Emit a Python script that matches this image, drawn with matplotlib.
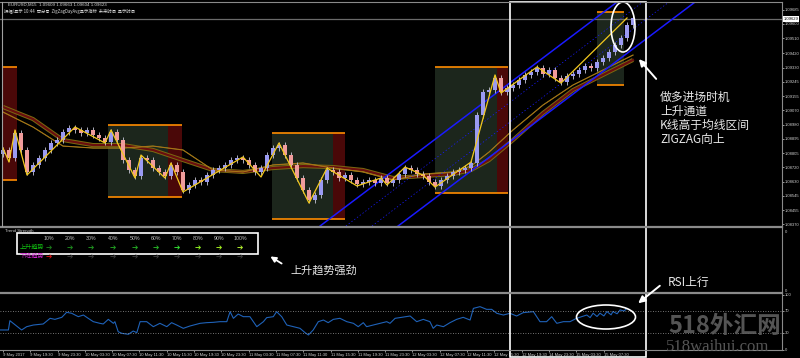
import numpy as np
import matplotlib
matplotlib.use('Agg')
import matplotlib.pyplot as plt
from matplotlib.patches import Rectangle, Ellipse

plt.rcParams['font.family'] = ['Noto Sans CJK SC', 'DejaVu Sans']
plt.rcParams['hatch.linewidth'] = 0.25

# ---------------- data ----------------
first_open = 1.08800
closes = [1.08825, 1.08776, 1.08929, 1.08825, 1.08690, 1.08733, 1.08776, 1.08825, 1.08868, 1.08886,
          1.08935, 1.08960, 1.08948, 1.08929, 1.08948, 1.08917, 1.08898, 1.08874, 1.08935, 1.08886,
          1.08763, 1.08702, 1.08665, 1.08776, 1.08763, 1.08714, 1.08690, 1.08665, 1.08733, 1.08690,
          1.08579, 1.08610, 1.08640, 1.08628, 1.08671, 1.08702, 1.08714, 1.08733, 1.08763, 1.08776,
          1.08763, 1.08733, 1.08690, 1.08714, 1.08794, 1.08837, 1.08855, 1.08794, 1.08733, 1.08653,
          1.08579, 1.08517, 1.08548, 1.08640, 1.08702, 1.08690, 1.08653, 1.08671, 1.08640, 1.08616,
          1.08628, 1.08640, 1.08622, 1.08653, 1.08622, 1.08640, 1.08677, 1.08714, 1.08702, 1.08677,
          1.08665, 1.08628, 1.08604, 1.08640, 1.08665, 1.08690, 1.08702, 1.08714, 1.08745, 1.09040,
          1.09181, 1.09193, 1.09267, 1.09181, 1.09206, 1.09224, 1.09255, 1.09286, 1.09304, 1.09329,
          1.09292, 1.09316, 1.09267, 1.09243, 1.09279, 1.09292, 1.09316, 1.09341, 1.09329, 1.09365,
          1.09390, 1.09427, 1.09470, 1.09513, 1.09593, 1.09636]

zigzag_t = [1, 3, 5, 9, 25, 35, 37, 45, 47, 55, 57, 61, 81, 87, 93, 103, 109, 119, 127, 129,
            135, 141, 145, 157, 165, 167, 179, 187, 209]
zigzag_p = [1.08837, 1.08751, 1.08948, 1.08671, 1.08966, 1.08868, 1.08948, 1.08653, 1.08794, 1.08653,
            1.08745, 1.08567, 1.08782, 1.08659, 1.08868, 1.08499, 1.08714, 1.08604, 1.08653, 1.08610,
            1.08720, 1.08671, 1.08597, 1.08751, 1.09286, 1.09175, 1.09335, 1.09236, 1.09636]

ma_t = [1, 11, 21, 31, 41, 51, 61, 71, 81, 91, 101, 111, 121, 131, 141, 151, 157, 163, 171, 181, 191, 201, 211]
ma_slow = [1.09089, 1.09015, 1.08886, 1.08855, 1.08855, 1.08825, 1.08763, 1.08702, 1.08690, 1.08714,
           1.08726, 1.08720, 1.08702, 1.08653, 1.08665, 1.08677, 1.08702, 1.08763, 1.08886, 1.09052,
           1.09193, 1.09286, 1.09378]
ma_fast = [1.09058, 1.08966, 1.08849, 1.08837, 1.08837, 1.08849, 1.08825, 1.08702, 1.08690, 1.08733,
           1.08745, 1.08714, 1.08690, 1.08640, 1.08677, 1.08690, 1.08726, 1.08812, 1.08948, 1.09101,
           1.09224, 1.09316, 1.09408]

# range boxes: start, end, top, bottom, red-zone start
box_start = [1.0, 36.0, 90.7, 145.0, 199.0]
box_end = [5.7, 60.7, 115.0, 169.3, 208.0]
box_top = [1.09335, 1.08978, 1.08929, 1.09335, 1.09673]
box_bottom = [1.08640, 1.08536, 1.08401, 1.08561, 1.09224]
box_red_from = [1.0, 56.0, 111.0, 165.7, None]

# rising channel
chan_upper_t = [106.7, 205.7]
chan_lower_t = [132.7, 231.7]
chan_mid1_t = [115.3, 214.3]
chan_mid2_t = [124.0, 223.0]
chan_p = [1.08358, 1.09734]

bid_price = 1.09629

rsi_points = [(0, 35.5), (2.8, 35.5), (3.3, 52.4), (4.4, 47.6), (7.2, 35.5), (8.9, 41.5), (11.1, 44.5),
              (14.4, 46.4), (16.7, 56.7), (18.3, 54.8), (20.6, 58.5), (22.2, 67.6), (23.9, 65.8),
              (26.1, 59.7), (27.8, 62.7), (29.4, 56.7), (31.1, 50.6), (33.3, 47.6), (34.4, 46.4),
              (36.1, 54.8), (37.8, 47.6), (38.3, 50.6), (39.4, 32.4), (40.6, 29.4), (42.8, 27.6),
              (44.4, 33.6), (45.6, 30.6), (46.7, 50.6), (48.9, 50.6), (51.1, 41.5), (53.3, 47.6),
              (55.6, 41.5), (57.2, 48.8), (58.9, 44.5), (61.1, 38.5), (63.3, 42.7), (66.7, 47.6),
              (68.9, 48.8), (71.1, 49.4), (73.3, 50.6), (75.6, 50.6), (76.7, 68.8), (77.8, 56.7),
              (79.4, 64.5), (81.1, 59.7), (83.3, 59.7), (85.6, 41.5), (87.8, 50.6), (88.9, 57.9),
              (91.1, 59.7), (92.2, 68.8), (93.9, 59.7), (95.6, 44.5), (97.8, 41.5), (100, 38.5),
              (101.7, 30.6), (102.8, 26.4), (104.4, 35.5), (106.1, 50.6), (107.8, 53.6), (109.4, 48.8),
              (111.1, 54.8), (113.3, 56.7), (115.6, 50.6), (117.8, 47.6), (119.4, 41.5), (121.1, 48.8),
              (122.2, 41.5), (124.4, 44.5), (126.7, 47.6), (128.9, 50.6), (130, 47.6), (131.7, 56.7),
              (133.3, 58.0), (136.7, 60.9), (138.9, 50.6), (141.1, 54.8), (143.3, 50.6), (144.4, 38.5),
              (145.6, 44.5), (147.8, 41.5), (150, 48.8), (152.2, 54.8), (154.4, 58.5), (156.7, 53.6),
              (157.8, 74.8), (160, 77.9), (162.2, 73.0), (163.9, 73.0), (165.6, 65.8), (167.8, 62.7),
              (170, 65.8), (172.2, 60.9), (174.4, 67.0), (177.8, 68.8), (180, 50.6), (182.2, 50.6),
              (183.9, 59.7), (185.6, 47.6), (187.8, 50.6), (190, 50.6), (192.2, 56.7), (195.6, 62.7),
              (196.7, 58.0), (197.7, 66.0), (199, 60.0), (200, 66.0), (201.3, 61.0), (202.3, 69.0),
              (203.7, 63.0), (204.3, 69.0), (205.7, 65.0), (206.7, 72.0), (208, 70.0), (209, 74.8)]
rsi_levels = [70, 30]

price_ticks = [1.09685, 1.09600, 1.09510, 1.09420, 1.09330, 1.09245, 1.09155, 1.09070, 1.08980,
               1.08895, 1.08805, 1.08720, 1.08630, 1.08545, 1.08455, 1.08370]
time_labels = ["9 May 2017", "9 May 19:30", "9 May 23:30", "10 May 03:30", "10 May 07:30",
               "10 May 11:30", "10 May 15:30", "10 May 19:30", "10 May 23:30", "11 May 03:30",
               "11 May 07:30", "11 May 11:30", "11 May 15:30", "11 May 19:30", "11 May 23:30",
               "12 May 03:30", "12 May 07:30", "12 May 11:30", "12 May 15:30", "12 May 19:30",
               "14 May 23:30", "15 May 03:30", "15 May 07:30"]
strength_labels = ['10%', '20%', '30%', '40%', '50%', '60%', '70%', '80%', '90%', '100%']
strength_up_colors = ['#1b7a1b', '#1d861d', '#1f921f', '#219c21', '#23a623', '#26b026',
                      '#33dd33', '#8cf020', '#a4f020', '#b4f030']
strength_dn_colors = ['#cc1010'] + ['#3a3a3a'] * 9

SMALL = ['Liberation Sans', 'DejaVu Sans']

# ---------------- figure ----------------
W, H = 800, 358
fig = plt.figure(figsize=(8, 3.58), dpi=100, facecolor='black')
XR = 782 / 800
ax = fig.add_axes([0, 132 / H, XR, 224 / H])
ax_ts = fig.add_axes([0, 66 / H, XR, 62 / H])
ax_rsi = fig.add_axes([0, 8.5 / H, XR, 55 / H])
xlim = (0, 782 / 3)
for a in (ax, ax_ts, ax_rsi):
    a.set_facecolor('black')
    a.set_xlim(*xlim)
    for s in a.spines.values():
        s.set_visible(False)

# main panel
ax.set_ylim(1.08358, 1.09734)
c = np.array(closes)
o = np.r_[first_open, c[:-1]]
t = np.arange(len(c)) * 2 + 1
lo = np.minimum(o, c)
hi = np.maximum(o, c)
pad = 0.00018
up = c >= o

for s0, s1, top, bot, rf in zip(box_start, box_end, box_top, box_bottom, box_red_from):
    ax.add_patch(Rectangle((s0, bot), s1 - s0, top - bot, facecolor='#030503',
                           edgecolor='#1c261c', hatch='+' * 30, lw=0, zorder=0.5))
    if rf is not None:
        ax.add_patch(Rectangle((rf, bot), s1 - rf, top - bot, facecolor='#0c0000',
                               edgecolor='#4a0808', hatch='+' * 30, lw=0, zorder=0.6))
    ax.hlines([top, bot], s0, s1, color='#ff8c00', lw=1.2, zorder=1)

ax.axhline(bid_price, color='#6a6a6a', lw=0.9, zorder=0.8)

ax.plot(ma_t, ma_slow, color='#7a6a10', lw=3.0, zorder=2, solid_capstyle='butt')
ax.plot(ma_t, ma_slow, color='#6a0e0e', lw=1.6, zorder=2.1)
ax.plot(ma_t, ma_fast, color='#9a9420', lw=0.8, zorder=2.2)
ax.plot(ma_t, ma_fast, color='#b05a10', lw=0.4, zorder=2.2)

ax.plot(chan_upper_t, chan_p, color='#1a1aff', lw=1.1, zorder=2.5)
ax.plot(chan_lower_t, chan_p, color='#1a1aff', lw=1.1, zorder=2.5)
ax.plot(chan_mid1_t, chan_p, color='#1a1aff', lw=0.5, ls=(0, (2, 3)), zorder=2.5)
ax.plot(chan_mid2_t, chan_p, color='#1a1aff', lw=0.5, ls=(0, (2, 3)), zorder=2.5)

ax.vlines(t, lo - pad, hi + pad, color='#c8c8d8', lw=0.6, zorder=3)
ax.bar(t, np.maximum(hi - lo, 0.00004), bottom=lo, width=1.3,
       color=np.where(up, '#9a9af2', '#f09c9c'), zorder=3.1)

ax.plot(zigzag_t, zigzag_p, color='#f2c81e', lw=0.9, zorder=4)

ax.yaxis.tick_right()
ax.set_yticks(price_ticks)
ax.set_yticklabels([f'{p:.5f}' for p in price_ticks], family=SMALL)
ax.tick_params(axis='y', colors='#b0b0b0', labelcolor='#d0d0d0', labelsize=3.0, length=1.5, pad=0.3, width=0.6)
ax.set_xticks([])

# trend strength panel
ax_ts.set_ylim(0, 1)
ax_ts.set_xticks([])
ax_ts.yaxis.tick_right()
ax_ts.set_yticks([0.97, 0.03])
ax_ts.set_yticklabels(['0', '0'], family=SMALL)
ax_ts.tick_params(axis='y', colors='#b0b0b0', labelcolor='#d0d0d0', labelsize=3.0, length=0, pad=2)

# RSI panel
ax_rsi.set_ylim(0, 100)
rt = [p[0] for p in rsi_points]
rv = [p[1] for p in rsi_points]
ax_rsi.plot(rt, rv, color='#1f62b8', lw=0.8)
for lv in rsi_levels:
    ax_rsi.axhline(lv, color='#9a9a9a', lw=0.6, ls=(0, (1, 2)))
ax_rsi.yaxis.tick_right()
ax_rsi.set_yticks([100, 70, 30, 0])
ax_rsi.set_yticklabels(['100', '70', '30', '0'], family=SMALL)
ax_rsi.tick_params(axis='y', colors='#b0b0b0', labelcolor='#d0d0d0', labelsize=3.0, length=1.5, pad=0.3, width=0.6)
tick_t = np.arange(len(time_labels)) * 9.1 + 1
ax_rsi.set_xticks(tick_t)
ax_rsi.set_xticklabels(time_labels, ha='left', family=SMALL)
ax_rsi.tick_params(axis='x', colors='#b0b0b0', labelcolor='#d0d0d0', labelsize=3.0, length=1.5, pad=0.8, width=0.6)

# ---------------- overlay (annotations, frames) ----------------
ov = fig.add_axes([0, 0, 1, 1], zorder=10)
ov.set_xlim(0, W)
ov.set_ylim(H, 0)
ov.axis('off')
ov.patch.set_alpha(0)

g = '#8a8a8a'
ov.plot([0, 782], [1.5, 1.5], color=g, lw=0.8)
ov.plot([0, 782], [227, 227], color=g, lw=1.6)
ov.plot([0, 782], [293, 293], color=g, lw=1.6)
ov.plot([0, 782], [350, 350], color=g, lw=0.8)
ov.plot([782, 782], [1.5, 350], color=g, lw=0.8)
ov.plot([1.5, 1.5], [2, 226], color='#a0a0a0', lw=0.8)

ov.text(783.5, 19, f'{bid_price:.5f}', fontsize=3.0, color='black', va='center', ha='left',
        family=SMALL, bbox=dict(fc='white', ec='none', pad=0.4))

ov.text(8, 5, 'EURUSD,M15  1.09609 1.09663 1.09604 1.09623', fontsize=3.2, color='#d8d8d8',
        va='center', family=SMALL)
ov.text(4, 11, '振幅/显示 10:44  百分号  ZigZagDayAvg显示指标  未来时间  显示时间', fontsize=3.1,
        color='#d8d8d8', va='center')

# trend strength widget
ov.text(5, 231, 'Trend Strength', fontsize=3.2, color='#c8c8c8', va='center', family=SMALL)
xs = [49, 70, 91, 113, 135, 156, 177, 198, 219, 240]
ov.text(20, 255.5, '下降趋势', fontsize=4.4, color='#d020d0', va='center')
for x, lab, cu, cd in zip(xs, strength_labels, strength_up_colors, strength_dn_colors):
    ov.text(x, 239, lab, fontsize=3.8, color='#c0c0c0', ha='center', va='center', family=SMALL)
    ov.text(x, 247, '➔', fontsize=5.5, color=cu, ha='center', va='center', family=['DejaVu Sans'])
    ov.text(x, 256, '➔', fontsize=5.5, color=cd, ha='center', va='center', family=['DejaVu Sans'])
ov.add_patch(Rectangle((17, 233), 241, 21, fc='black', ec='white', lw=1.2, zorder=0))
ov.text(20, 247, '上升趋势', fontsize=4.4, color='#10c010', va='center')
ov.annotate('', xy=(268, 255), xytext=(284, 265),
            arrowprops=dict(arrowstyle='-|>', color='white', lw=1.3, mutation_scale=8))
ov.text(290, 270, '上升趋势强劲', fontsize=8, color='#e8e8e8', va='center')

# big white frame and annotations
ov.add_patch(Rectangle((510, 2), 136, 355, fc='none', ec='white', lw=1.2))
ov.add_patch(Ellipse((623, 27), 24, 50, fc='none', ec='white', lw=1.2))
ov.annotate('', xy=(637, 57), xytext=(658, 81),
            arrowprops=dict(arrowstyle='-|>', color='white', lw=1.4, mutation_scale=10))
for yy, txt in zip([97, 111, 125, 140], ['做多进场时机', '上升通道', 'K线高于均线区间', 'ZIGZAG向上']):
    ov.text(660, yy, txt, fontsize=8.5, color='#e8e8e8', va='center')

ov.add_patch(Ellipse((606, 317), 59, 24, fc='none', ec='white', lw=1.2))
ov.annotate('', xy=(636, 305), xytext=(662, 284),
            arrowprops=dict(arrowstyle='-|>', color='white', lw=1.4, mutation_scale=10))
ov.text(668, 282, 'RSI上行', fontsize=8.5, color='#e8e8e8', va='center')

# watermark
ov.text(668, 326, '518外汇网', fontsize=17, color='#5e5e5e', va='center', ha='left',
        fontweight='bold', alpha=0.9)
ov.text(666, 347, '518waihui.com', fontsize=12, color='#5e5e5e', va='center', ha='left',
        family=['Liberation Serif', 'DejaVu Serif'], alpha=0.9)

fig.savefig('out.png', dpi=100, facecolor='black')
